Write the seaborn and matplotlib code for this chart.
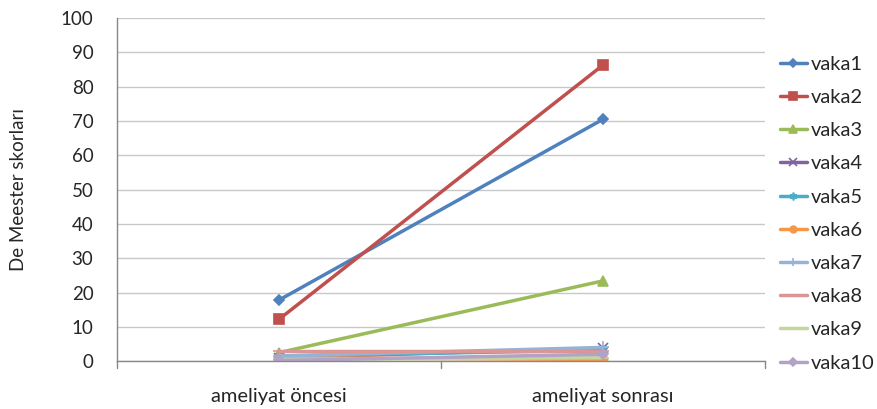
import matplotlib
matplotlib.use("Agg")
import matplotlib.pyplot as plt
import seaborn as sns
import pandas as pd

# Scores per case before and after surgery
categories = ["ameliyat öncesi", "ameliyat sonrası"]
cases = ["vaka1", "vaka2", "vaka3", "vaka4", "vaka5",
         "vaka6", "vaka7", "vaka8", "vaka9", "vaka10"]
before = [17.8, 12.2, 2.5, 1.0, 1.5, 1.0, 1.5, 3.0, 0.5, 0.2]
after = [70.5, 86.3, 23.4, 3.8, 3.2, 0.5, 4.0, 3.0, 1.0, 2.0]

colors = ["#4F81BD", "#C0504D", "#9BBB59", "#8064A2", "#4BACC6",
          "#F79646", "#95B3D7", "#D99694", "#C3D69B", "#B3A2C7"]
markers = ["D", "s", "^", "x", (6, 2, 0), "o", "+", "_", "_", "D"]
msizes = [5, 7, 7, 7, 7, 6, 8, 8, 8, 5]

rows = []
for c, b, a in zip(cases, before, after):
    rows.append({"vaka": c, "pos": 0, "score": b})
    rows.append({"vaka": c, "pos": 1, "score": a})
df = pd.DataFrame(rows)

sns.set_theme(style="white")
plt.rcParams["font.family"] = ["Lato", "DejaVu Sans"]

fig = plt.figure(figsize=(8.77, 4.09), dpi=100)
ax = fig.add_axes([0.1334, 0.117, 0.739, 0.839])

for c, col, m, ms in zip(cases, colors, markers, msizes):
    sub = df[df["vaka"] == c]
    sns.lineplot(data=sub, x="pos", y="score", ax=ax, color=col, linewidth=2.5,
                 marker=m, markersize=ms, markeredgecolor=col, markeredgewidth=1.2,
                 label=c, legend=False)

ax.set_xlim(-0.5, 1.5)
ax.set_ylim(0, 100)
ax.set_yticks(range(0, 101, 10))
ax.set_xticks([0, 1])
ax.set_xticklabels(categories, fontsize=14.5)
ax.tick_params(axis="y", labelsize=13.5, length=5, color="#888888", direction="out", pad=12)
ax.tick_params(axis="x", length=0, pad=19)
# category boundary ticks below the axis
for xb in (-0.5, 0.5, 1.5):
    ax.plot([xb, xb], [0, -2], color="#888888", linewidth=1, clip_on=False)

ax.yaxis.grid(True, color="#C8C8C8", linewidth=1)
ax.xaxis.grid(False)
for side in ("top", "right"):
    ax.spines[side].set_visible(False)
for side in ("left", "bottom"):
    ax.spines[side].set_color("#888888")
    ax.spines[side].set_linewidth(1)

ax.set_xlabel("")
ax.set_ylabel("De Meester skorları", fontsize=13.5, labelpad=24)

handles, labels = ax.get_legend_handles_labels()
leg = fig.legend(handles, labels, loc="upper left", bbox_to_anchor=(0.889, 0.864),
                 frameon=False, fontsize=14.5, handlelength=1.35, handletextpad=0.2,
                 labelspacing=0.8, borderaxespad=0, borderpad=0, markerscale=0.8)

fig.savefig("out.png", dpi=100)
